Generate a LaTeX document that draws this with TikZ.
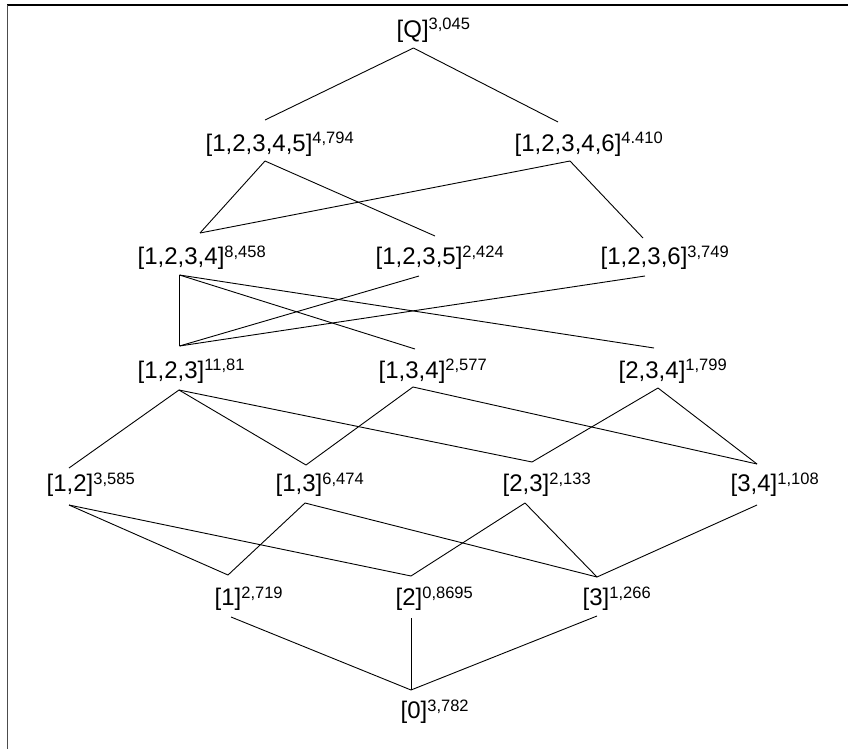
\documentclass[tikz,border=0pt]{standalone}
\usepackage{fontspec}
\setmainfont{Liberation Sans}
\newcommand{\lbl}[2]{#1\raisebox{7.5bp}{\fontsize{16.5bp}{16.5bp}\selectfont #2}}
\tikzset{
  lab/.style={anchor=base west, inner sep=0pt, font=\fontsize{24bp}{24bp}\selectfont},
  conn/.style={line width=0.9bp, black},
  frametop/.style={line width=1.6bp, black},
  frameleft/.style={line width=1.8bp, black!70}
}
\begin{document}
\begin{tikzpicture}[x=1bp, y=-1bp]
\useasboundingbox (0,0) rectangle (848,749);
% frame
\draw[frametop] (7,5) -- (848,5);
\draw[frameleft] (7.5,5) -- (7.5,749);

% labels
\node[lab] (nQ)     at (396.5,37.5) {\lbl{[Q]}{3,045}};
\node[lab] (n12345) at (205.5,151)  {\lbl{[1,2,3,4,5]}{4,794}};
\node[lab] (n12346) at (514.5,151)  {\lbl{[1,2,3,4,6]}{4.410}};
\node[lab] (n1234)  at (137.5,264.5) {\lbl{[1,2,3,4]}{8,458}};
\node[lab] (n1235)  at (375.5,264.5) {\lbl{[1,2,3,5]}{2,424}};
\node[lab] (n1236)  at (600.5,264.5) {\lbl{[1,2,3,6]}{3,749}};
\node[lab] (n123)   at (137.5,378)  {\lbl{[1,2,3]}{11,81}};
\node[lab] (n134)   at (378.5,378)  {\lbl{[1,3,4]}{2,577}};
\node[lab] (n234)   at (618.5,378)  {\lbl{[2,3,4]}{1,799}};
\node[lab] (n12)    at (46.5,491.5) {\lbl{[1,2]}{3,585}};
\node[lab] (n13)    at (275.5,491.5) {\lbl{[1,3]}{6,474}};
\node[lab] (n23)    at (502.5,491.5) {\lbl{[2,3]}{2,133}};
\node[lab] (n34)    at (730.5,491.5) {\lbl{[3,4]}{1,108}};
\node[lab] (n1)     at (214.5,605.5) {\lbl{[1]}{2,719}};
\node[lab] (n2)     at (395.5,605.5) {\lbl{[2]}{0,8695}};
\node[lab] (n3)     at (582.5,605.5) {\lbl{[3]}{1,266}};
\node[lab] (n0)     at (400.5,718.5) {\lbl{[0]}{3,782}};

% connection points (t = top, b = bottom of each label)
\coordinate (Qb) at (413.5,48);
\coordinate (A1t) at (265,120);  \coordinate (A1b) at (265,161);
\coordinate (A2t) at (558,122);  \coordinate (A2b) at (570,161);
\coordinate (B1t) at (200,233);  \coordinate (B1b) at (179.5,275);
\coordinate (B2t) at (435,236);  \coordinate (B2b) at (419,276);
\coordinate (B3t) at (643,238);  \coordinate (B3b) at (645,276);
\coordinate (C1t) at (179.5,346);  \coordinate (C1b) at (179,390);
\coordinate (C2t) at (415,349);  \coordinate (C2b) at (413,387);
\coordinate (C3t) at (654,348);  \coordinate (C3b) at (658,388);
\coordinate (D1t) at (69,468);   \coordinate (D1b) at (69,505);
\coordinate (D2t) at (306,465);  \coordinate (D2b) at (305,503);
\coordinate (D3t) at (532,462);  \coordinate (D3b) at (525,503);
\coordinate (D4t) at (757,464);  \coordinate (D4b) at (757,505);
\coordinate (E1t) at (228,575);  \coordinate (E1b) at (231,617);
\coordinate (E2t) at (411,576);  \coordinate (E2b) at (411,618);
\coordinate (E3t) at (597,577);  \coordinate (E3b) at (597,616);
\coordinate (Ft) at (411,690);

% connectors
\draw[conn] (Qb) -- (A1t);
\draw[conn] (Qb) -- (A2t);
\draw[conn] (A1b) -- (B1t);
\draw[conn] (A1b) -- (B2t);
\draw[conn] (A2b) -- (B1t);
\draw[conn] (A2b) -- (B3t);
\draw[conn] (B1b) -- (C1t);
\draw[conn] (B1b) -- (C2t);
\draw[conn] (B1b) -- (C3t);
\draw[conn] (B2b) -- (C1t);
\draw[conn] (B3b) -- (C1t);
\draw[conn] (C1b) -- (D1t);
\draw[conn] (C1b) -- (D2t);
\draw[conn] (C1b) -- (D3t);
\draw[conn] (C2b) -- (D2t);
\draw[conn] (C2b) -- (D4t);
\draw[conn] (C3b) -- (D3t);
\draw[conn] (C3b) -- (D4t);
\draw[conn] (D1b) -- (E1t);
\draw[conn] (D1b) -- (E2t);
\draw[conn] (D2b) -- (E1t);
\draw[conn] (D2b) -- (E3t);
\draw[conn] (D3b) -- (E2t);
\draw[conn] (D3b) -- (E3t);
\draw[conn] (D4b) -- (E3t);
\draw[conn] (E1b) -- (Ft);
\draw[conn] (E2b) -- (Ft);
\draw[conn] (E3b) -- (Ft);
\end{tikzpicture}
\end{document}
